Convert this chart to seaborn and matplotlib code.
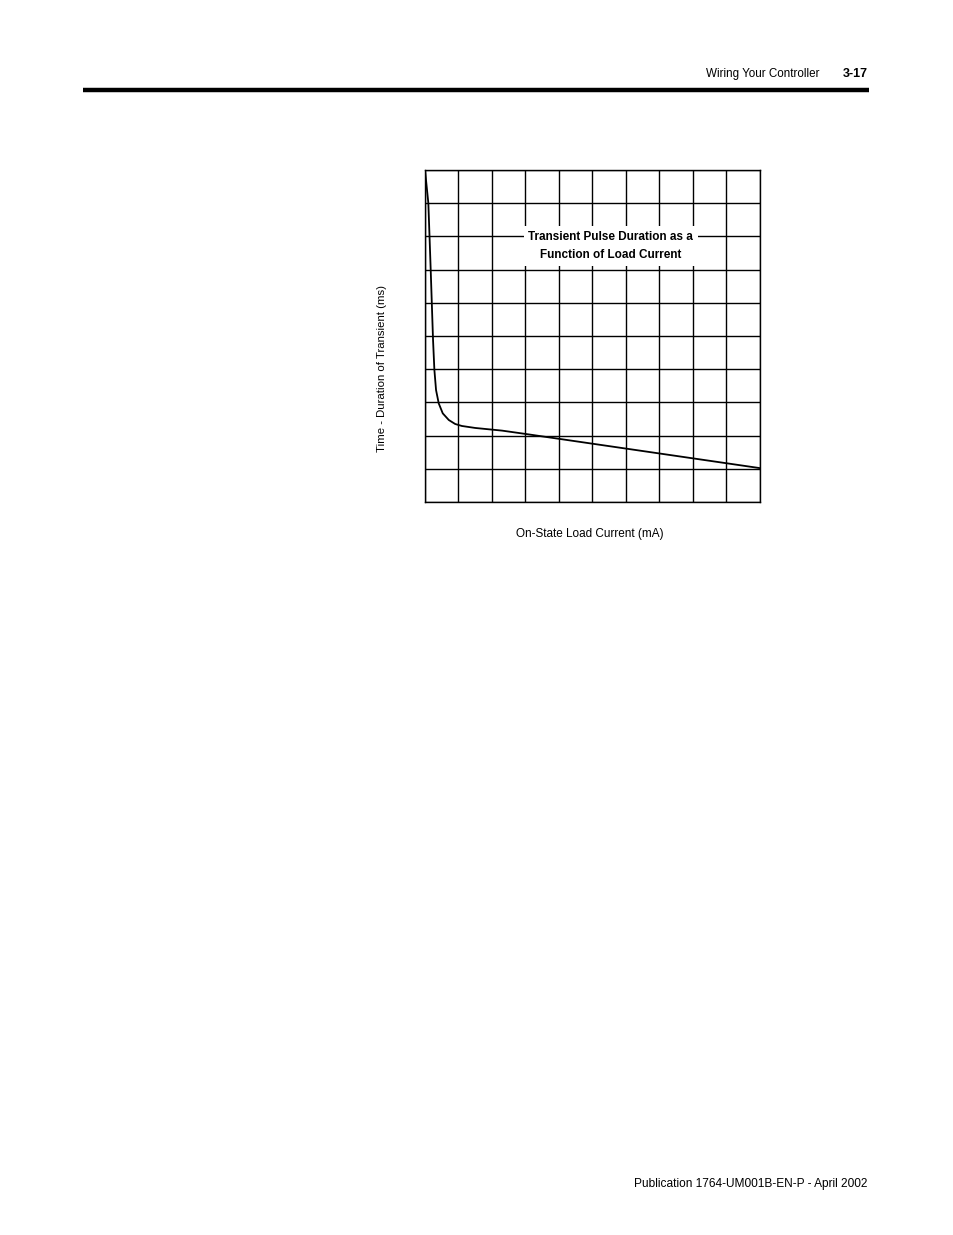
import matplotlib
matplotlib.use("Agg")
import matplotlib.pyplot as plt
import seaborn as sns
import pandas as pd

# Data (grid units: 10 divisions on each axis)
current = [0.0, 0.1, 0.17, 0.24, 0.28, 0.33, 0.41, 0.53, 0.71, 0.90,
           1.10, 1.50, 2.30, 3.0, 10.0]
duration = [10.0, 9.0, 7.0, 4.88, 3.98, 3.37, 2.97, 2.67, 2.47, 2.35,
            2.29, 2.23, 2.15, 2.05, 1.02]
grid_ticks = list(range(11))

sns.set_style("white")
FONT = ['Liberation Sans', 'DejaVu Sans']
plt.rcParams['font.family'] = FONT
plt.rcParams['text.color'] = 'black'

W, H = 954, 1235
fig = plt.figure(figsize=(W / 100, H / 100), dpi=100)

ax = fig.add_axes([425 / W, 1 - 502 / H, 335 / W, 332 / H])
df = pd.DataFrame({"current": current, "duration": duration})
sns.lineplot(data=df, x="current", y="duration", ax=ax, color="black",
             linewidth=1.3, sort=False, zorder=3)
ax.set_xlim(0, 10)
ax.set_ylim(0, 10)
ax.set_xticks(grid_ticks)
ax.set_yticks(grid_ticks)
ax.tick_params(length=0, labelbottom=False, labelleft=False)
ax.grid(True, color="black", linewidth=1.0)
ax.set_axisbelow(True)
for s in ax.spines.values():
    s.set_color("black")
    s.set_linewidth(1.0)
ax.set_xlabel("")
ax.set_ylabel("")

ax.text(5.55, 7.71, "Transient Pulse Duration as a\nFunction of Load Current",
        ha="center", va="center", fontsize=8.5, fontweight="bold",
        linespacing=1.65, zorder=5, color="black",
        bbox=dict(facecolor="white", edgecolor="none", pad=3.5))

fig.text(590 / W, 1 - 534 / H, "On-State Load Current (mA)",
         ha="center", va="center", fontsize=8.5, color="black")
fig.text(382 / W, 1 - 368 / H, "Time - Duration of Transient (ms)",
         ha="center", va="center", fontsize=8.2, rotation=90, color="black")

# page header / footer
fig.text(820 / W, 1 - 74 / H, "Wiring Your Controller", ha="right",
         va="center", fontsize=8.4, color="black")
fig.text(868 / W, 1 - 74 / H, "3-17", ha="right", va="center",
         fontsize=9, fontweight="bold", color="black")
fig.add_artist(plt.Line2D([83 / W, 869 / W], [1 - 90 / H, 1 - 90 / H],
                          color="black", linewidth=3.2,
                          solid_capstyle="butt"))
fig.text(868 / W, 1 - 1184 / H, "Publication 1764-UM001B-EN-P - April 2002",
         ha="right", va="center", fontsize=8.6, color="black")

fig.savefig("out.png", dpi=100)
